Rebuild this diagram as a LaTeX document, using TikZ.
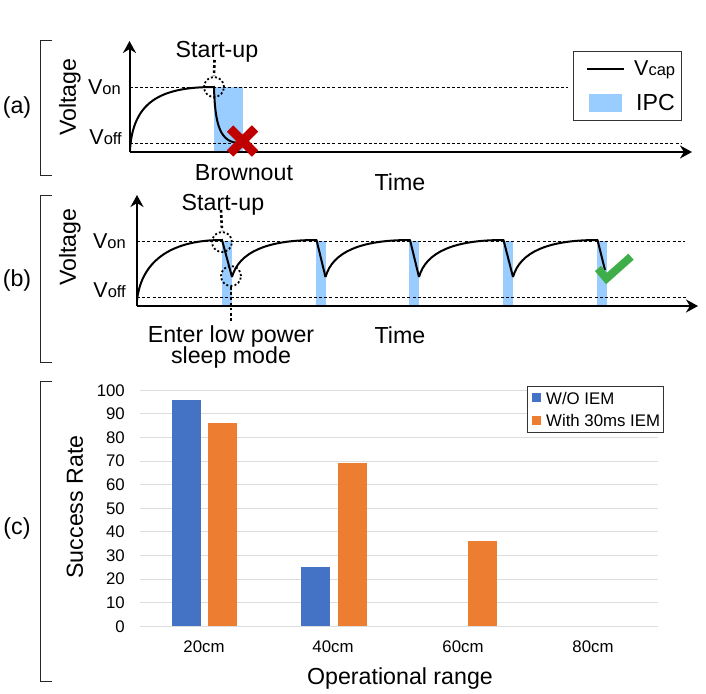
\documentclass[tikz,border=0pt]{standalone}
\usepackage{fontspec}
\setmainfont{Liberation Sans}
\usetikzlibrary{arrows.meta,positioning,calc}
\definecolor{ipcblue}{HTML}{99CCFF}
\definecolor{barblue}{HTML}{4472C4}
\definecolor{barorange}{HTML}{ED7D31}
\definecolor{gridgray}{HTML}{DDDDDD}
\definecolor{crossred}{HTML}{C00000}
\definecolor{tickgreen}{HTML}{3FAE49}
\newcommand{\bigtxt}{\fontsize{23.2}{25}\selectfont}
\newcommand{\midtxt}{\fontsize{16.8}{20}\selectfont}
\newcommand{\vlab}[1]{{\fontsize{21.5}{24}\selectfont V\fontsize{16.5}{20}\selectfont #1}}
\tikzset{
  txt/.style={inner sep=0pt,font=\bigtxt},
  small/.style={inner sep=0pt,font=\midtxt},
  axis/.style={line width=2pt,-{Stealth[length=12pt,width=13pt]}},
  level/.style={line width=1pt,dash pattern=on 3pt off 2.2pt},
  leader/.style={line width=2.6pt,dash pattern=on 2.6pt off 2.6pt},
  ring/.style={circle,draw,line width=1.8pt,dash pattern=on 2pt off 2.2pt,minimum size=20pt,inner sep=0pt},
  vcap/.style={line width=2pt},
  ipc/.style={fill=ipcblue},
  brack/.style={line width=1pt,black!85},
  frame/.style={draw=black!80,line width=1.2pt,fill=white},
}
\begin{document}
\begin{tikzpicture}[x=1pt,y=-1pt]
  \useasboundingbox (0,0) rectangle (706,693);

  % panel a
  \draw[brack] (52,41) -- (40,41) -- (40,175) -- (52,175);
  \node[txt] (tagA) at (17,107) {(a)};
  \fill[ipc] (214,87) rectangle (243,152);
  \coordinate (originA) at (129.5,152);
  \coordinate (topA) at (129.5,41);
  \coordinate (endA) at (692,152);
  \coordinate (onEndA) at (568,87);
  \coordinate (offEndA) at (682,143);
  \draw[level] (originA |- onEndA) -- (onEndA);
  \draw[level] (originA |- offEndA) -- (offEndA);
  \draw[axis] (originA) -- (topA);
  \draw[axis] (originA) -- (endA);
  \draw[vcap] (130,150) .. controls (133,102) and (160,87) .. (214,87)
    .. controls (215,125) and (220,143) .. (240,143);
  \node[ring] (ringA) at (214,87) {};
  \node[txt] (startA) at (217,51.5) {Start-up};
  \coordinate (leadA) at (214.5,60);
  \draw[leader] (leadA) -- (ringA.north);
  \node[txt,rotate=90] (voltA) at (70,97) {Voltage};
  \node[inner sep=0pt,anchor=east] (onA) at (121,87) {\vlab{on}};
  \node[inner sep=0pt,anchor=east] (offA) at (122,137) {\vlab{off}};
  \node[txt] (brown) at (244,172.5) {Brownout};
  \node[txt] (timeA) at (400,182) {Time};
  \draw[crossred,line width=9pt] (230,128.5) -- (255,153.5) (255,128.5) -- (230,153.5);
  \node[frame,minimum width=108pt,minimum height=69pt,anchor=north west] (boxA) at (573,51) {};
  \draw[line width=1.8pt] (587,69) -- (624,69);
  \fill[ipc] (589,94) rectangle (622,112);
  \node[inner sep=0pt,anchor=west] (capA) at (634,70) {\vlab{cap}};
  \node[txt,anchor=west] (ipcA) at (636,103) {IPC};

  % panel b
  \draw[brack] (52,195) -- (40,195) -- (40,362) -- (52,362);
  \node[txt] (tagB) at (17,280) {(b)};
  \foreach \x in {222,316,409,503,597}
    \fill[ipc] (\x,241) rectangle ++(10,65);
  \coordinate (originB) at (137,306);
  \coordinate (topB) at (137,195);
  \coordinate (endB) at (698,306);
  \coordinate (onEndB) at (685,241);
  \coordinate (offEndB) at (688,297);
  \draw[level] (originB |- onEndB) -- (onEndB);
  \draw[level] (originB |- offEndB) -- (offEndB);
  \draw[axis] (originB) -- (topB);
  \draw[axis] (originB) -- (endB);
  \draw[vcap] (137,300) .. controls (142,258) and (175,240) .. (222,240) -- (232,277);
  \foreach \x/\d/\y in {232/93.5/277,325.5/93.5/277,419/94/277,513/92/270}
    \draw[vcap,line join=round] (\x,277) .. controls (\x+7,252) and (\x+35,240) .. (\x+84.5,240) -- (\x+\d,\y);
  \draw[tickgreen,line width=8pt] (598,268.5) -- (606.5,278.5) -- (631,256.7);
  \node[ring] (ringB) at (222,242) {};
  \node[ring] (ringC) at (231,276) {};
  \node[txt] (startB) at (223,204.5) {Start-up};
  \coordinate (leadB) at (221,210);
  \draw[leader] (leadB) -- (ringB.north);
  \node[txt] (sleepA) at (231,336) {Enter low power};
  \node[txt,below=21.5pt of sleepA.center,anchor=center] (sleepB) {sleep mode};
  \coordinate (leadC) at (231,322);
  \draw[leader] (ringC.south) -- (leadC);
  \node[txt,rotate=90] (voltB) at (70,247) {Voltage};
  \node[inner sep=0pt,anchor=east] (onB) at (126,241) {\vlab{on}};
  \node[inner sep=0pt,anchor=east] (offB) at (126,290) {\vlab{off}};
  \node[txt] (timeB) at (400,335) {Time};

  % panel c
  \draw[brack] (52,381) -- (40,381) -- (40,681) -- (52,681);
  \node[txt] (tagC) at (17,528) {(c)};
  \foreach \v in {0,10,...,100} {
    \draw[gridgray,line width=1pt] (140,626.3-2.36*\v) -- (658,626.3-2.36*\v);
    \node[small,anchor=east] (tick\v) at (125,626.3-2.36*\v) {\v};
  }
  \foreach \x/\h/\c in {172/96/barblue,208/86/barorange,301/25/barblue,338/69/barorange,467.5/36/barorange}
    \fill[\c] (\x,626.3) rectangle ++(29,-2.36*\h);
  \foreach \x/\l in {204/20cm,333/40cm,463/60cm,593/80cm}
    \node[small] (cat\l) at (\x,647) {\l};
  \node[txt,rotate=90] (rate) at (75,507) {Success Rate};
  \node[txt] (range) at (400,678) {Operational range};
  \node[frame,minimum width=136pt,minimum height=46pt,anchor=north west] (boxC) at (527,386) {};
  \fill[barblue] (532,393) rectangle ++(9,9);
  \fill[barorange] (532,416) rectangle ++(9,9);
  \node[small,anchor=west] (legB) at (546,398) {W/O IEM};
  \node[small,anchor=west] (legO) at (546,420) {With 30ms IEM};
\end{tikzpicture}
\end{document}
